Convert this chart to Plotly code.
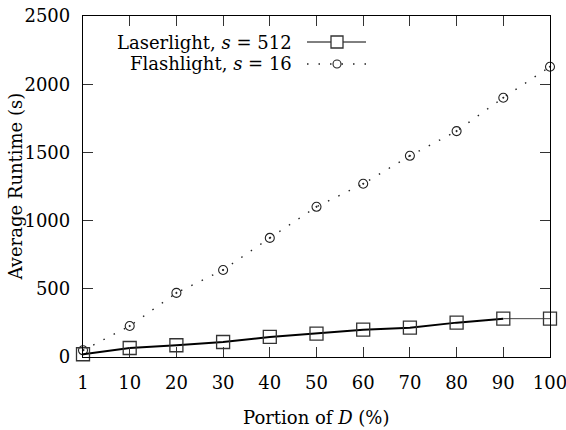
import plotly.graph_objects as go

portions = ["1", "10", "20", "30", "40", "50", "60", "70", "80", "90", "100"]
laserlight = [20, 66, 86, 110, 147, 171, 200, 215, 252, 281, 281]
flashlight = [49, 227, 470, 638, 873, 1101, 1270, 1475, 1656, 1901, 2128]
y_ticks = [0, 500, 1000, 1500, 2000, 2500]

FONT = "DejaVu Serif"
FS = 18
W, H = 566, 430
ML, MR, MT, MB = 83, 16, 16, 73
PW, PH = W - ML - MR, H - MT - MB

def px(x):
    return (x - ML) / PW

def py(y):
    return (H - MB - y) / PH

fig = go.Figure()

# Flashlight: dotted line with circle markers
fig.add_trace(go.Scatter(
    x=portions, y=flashlight, mode="lines+markers",
    line=dict(color="#222", width=1.4, dash="1.5px,10px"),
    marker=dict(symbol="circle-open-dot", size=9, color="#222", line=dict(width=1.1, color="#222")),
    cliponaxis=False, showlegend=False,
))
# Laserlight: thick solid line up to 90, thin afterwards
fig.add_trace(go.Scatter(
    x=portions[:10], y=laserlight[:10], mode="lines",
    line=dict(color="black", width=2),
    cliponaxis=False, showlegend=False,
))
fig.add_trace(go.Scatter(
    x=portions[9:], y=laserlight[9:], mode="lines",
    line=dict(color="#444", width=1),
    cliponaxis=False, showlegend=False,
))
fig.add_trace(go.Scatter(
    x=portions, y=laserlight, mode="markers",
    marker=dict(symbol="square-open", size=13, color="#333", line=dict(width=1.3, color="#333")),
    cliponaxis=False, showlegend=False,
))

axis_common = dict(
    showline=True, linecolor="black", linewidth=1.3, mirror="ticks",
    ticks="inside", ticklen=10, tickwidth=1, tickcolor="#333",
    showgrid=False, zeroline=False,
    tickfont=dict(family=FONT, size=FS, color="black"),
)

fig.update_xaxes(type="category", categoryorder="array", categoryarray=portions,
                 range=[0, 10], ticklabelstandoff=9, **axis_common)
fig.update_yaxes(range=[0, 2500], tickvals=y_ticks, ticklabelstandoff=8, **axis_common)

annotations = [
    dict(text="Portion of <i>D</i> (%)", x=0.5, y=0, xref="paper", yref="paper",
         yshift=-(417 - (H - MB)), xanchor="center", yanchor="middle", showarrow=False,
         font=dict(family=FONT, size=FS, color="black")),
    dict(text="Average Runtime (s)", x=0, y=0.5, xref="paper", yref="paper",
         xshift=-(ML - 15), textangle=-90, xanchor="center", yanchor="middle", showarrow=False,
         font=dict(family=FONT, size=FS, color="black")),
    dict(text="Laserlight, <i>s</i> = 512", x=px(294), y=py(42), xref="paper", yref="paper",
         xanchor="right", yanchor="middle", showarrow=False,
         font=dict(family=FONT, size=FS, color="black")),
    dict(text="Flashlight, <i>s</i> = 16", x=px(294), y=py(64), xref="paper", yref="paper",
         xanchor="right", yanchor="middle", showarrow=False,
         font=dict(family=FONT, size=FS, color="black")),
]

shapes = [
    # legend sample: Laserlight
    dict(type="line", xref="paper", yref="paper", x0=px(307), x1=px(366), y0=py(42), y1=py(42),
         line=dict(color="black", width=1)),
    dict(type="rect", xref="paper", yref="paper", xsizemode="pixel", ysizemode="pixel",
         xanchor=px(337), yanchor=py(42), x0=-6, x1=6, y0=-6, y1=6,
         line=dict(color="#333", width=1.3), fillcolor="white"),
    # legend sample: Flashlight
    dict(type="line", xref="paper", yref="paper", x0=px(307), x1=px(366), y0=py(64), y1=py(64),
         line=dict(color="#222", width=1.4, dash="1.5px,10px")),
    dict(type="circle", xref="paper", yref="paper", xsizemode="pixel", ysizemode="pixel",
         xanchor=px(337), yanchor=py(64), x0=-4, x1=4, y0=-4, y1=4,
         line=dict(color="#222", width=1.1), fillcolor="white"),
]

fig.update_layout(
    width=W, height=H,
    margin=dict(l=ML, r=MR, t=MT, b=MB, autoexpand=False),
    paper_bgcolor="white", plot_bgcolor="white",
    annotations=annotations, shapes=shapes, showlegend=False,
    font=dict(family=FONT, size=FS, color="black"),
)

fig.write_html("out.html")
